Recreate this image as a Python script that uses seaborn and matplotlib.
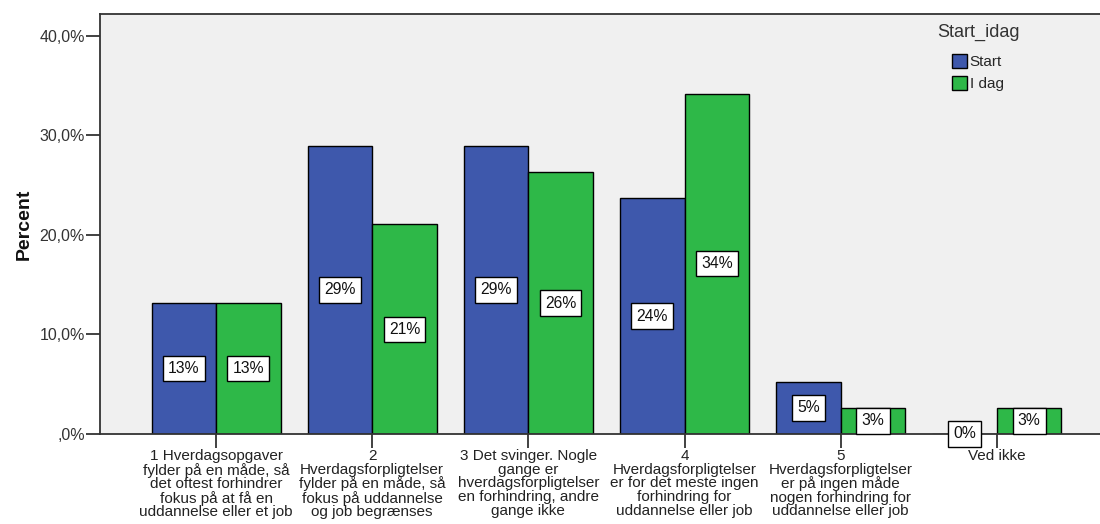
import matplotlib
matplotlib.use("Agg")
import matplotlib.pyplot as plt
import seaborn as sns
import pandas as pd

categories = [
    "1 Hverdagsopgaver\nfylder på en måde, så\ndet oftest forhindrer\nfokus på at få en\nuddannelse eller et job",
    "2\nHverdagsforpligtelser\nfylder på en måde, så\nfokus på uddannelse\nog job begrænses",
    "3 Det svinger. Nogle\ngange er\nhverdagsforpligtelser\nen forhindring, andre\ngange ikke",
    "4\nHverdagsforpligtelser\ner for det meste ingen\nforhindring for\nuddannelse eller job",
    "5\nHverdagsforpligtelser\ner på ingen måde\nnogen forhindring for\nuddannelse eller job",
    "Ved ikke",
]
start_values = [13.16, 28.95, 28.95, 23.68, 5.26, 0.0]
idag_values = [13.16, 21.05, 26.32, 34.21, 2.63, 2.63]
series_names = ["Start", "I dag"]
legend_title = "Start_idag"
ytick_values = [0, 10, 20, 30, 40]
ytick_labels = [",0%", "10,0%", "20,0%", "30,0%", "40,0%"]

sns.set_style("ticks")
plt.rcParams["font.family"] = ["Liberation Sans", "DejaVu Sans"]

df = pd.DataFrame({
    "cat": categories * 2,
    "value": start_values + idag_values,
    "series": [series_names[0]] * len(categories) + [series_names[1]] * len(categories),
})

fig = plt.figure(figsize=(11, 5.24), dpi=100)
ax = fig.add_axes([100 / 1100, (524 - 434) / 524, 1000 / 1100, (434 - 14) / 524])
ax.set_facecolor("#F0F0F0")

palette = {"Start": "#3E58AC", "I dag": "#2EB848"}
sns.barplot(data=df, x="cat", y="value", hue="series", palette=palette,
            width=0.826, edgecolor="black", linewidth=1.0, ax=ax, saturation=1,
            order=categories, hue_order=series_names)

for cont in ax.containers:
    labels = [f"{round(b.get_height()):.0f}%" for b in cont]
    ax.bar_label(cont, labels=labels, label_type="center", fontsize=11.3,
                 color="#111111",
                 bbox=dict(boxstyle="square,pad=0.33", facecolor="white",
                           edgecolor="black", linewidth=1.0))

ax.set_xlim(-0.743, 5.66)
ax.set_ylim(0, 42.2)
ax.set_yticks(ytick_values)
ax.set_yticklabels(ytick_labels, fontsize=11.5, color="#333333")
ax.set_xticks(range(len(categories)))
ax.set_xticklabels(categories, fontsize=11, color="#222222", linespacing=0.96, va="top")
ax.tick_params(axis="both", direction="out", length=10, width=1.3, color="#333333",
               bottom=True, left=True, top=False, right=False)
ax.tick_params(axis="x", pad=1)
ax.tick_params(axis="y", pad=1)
ax.set_xlabel("")
ax.set_ylabel("Percent", fontsize=14, fontweight="bold", color="#111111", labelpad=5)

for side in ["left", "bottom", "top"]:
    ax.spines[side].set_visible(True)
    ax.spines[side].set_color("#333333")
    ax.spines[side].set_linewidth(1.3)
ax.spines["right"].set_visible(False)

leg = ax.legend(loc="upper left", bbox_to_anchor=(0.852, 0.905),
                frameon=False, fontsize=11,
                handlelength=1.0, handleheight=1.0, handletextpad=0.15,
                labelspacing=0.45, borderaxespad=0, borderpad=0)
for h in leg.legend_handles:
    h.set_edgecolor("black")
    h.set_linewidth(1.0)
ax.text(0.837, 0.955, legend_title, transform=ax.transAxes, fontsize=13,
        color="#333333", ha="left", va="center")

fig.savefig("out.png", dpi=100, facecolor="white")
